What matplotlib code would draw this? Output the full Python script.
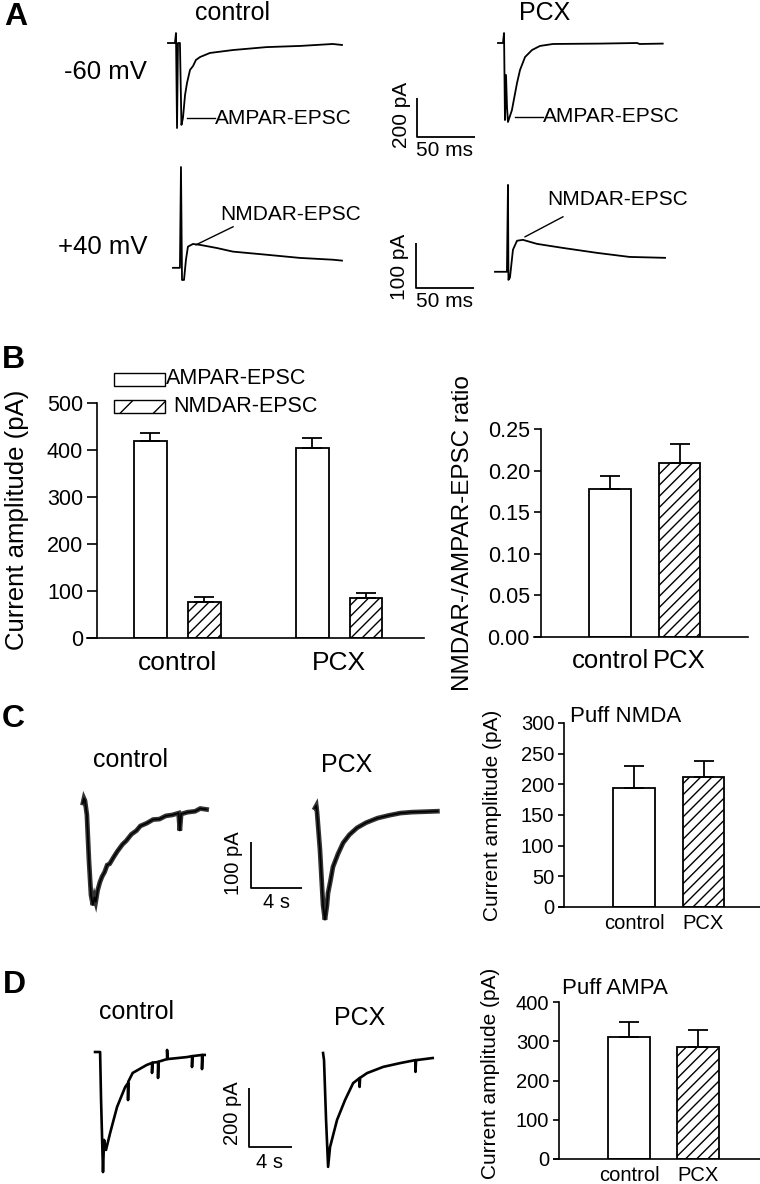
import matplotlib
matplotlib.use('Agg')
import matplotlib.pyplot as plt
from matplotlib.patches import Rectangle

plt.rcParams['font.family'] = ['Liberation Sans', 'DejaVu Sans']
plt.rcParams['hatch.linewidth'] = 1.0

# ---------------- data ----------------
groups = ['control', 'PCX']

# Panel A example traces (time in ms from trace start, current in pA from baseline)
ctrl_m60_t = [0, 6, 6.9, 7.8, 8.6, 10.3, 11.6, 12.9, 14.7, 16.4, 19, 21.6, 24.1, 27.6, 36.2, 56, 85, 114, 142, 150]
ctrl_m60_i = [0, 0, 51, -436, 0, 0, -420, -385, -267, -205, -138, -118, -87, -72, -51, -36, -21, -15, -5, -10]
pcx_m60_t = [0, 4.3, 5.2, 6, 6.9, 7.8, 8.6, 12, 16.4, 19, 23.3, 29.3, 36.2, 47.4, 88, 120, 122, 142]
pcx_m60_i = [0, 0, 51, -395, -164, -333, -405, -344, -205, -138, -72, -36, -15, -5, -3, 0, -5, -3]
ctrl_p40_t = [0, 6, 6.9, 7.8, 9.5, 11.2, 12.9, 17.2, 23.3, 37.9, 51.7, 81, 109.5, 138, 145.7]
ctrl_p40_i = [0, 0, 224, -27, -27, 18, 47, 53, 51, 44, 36, 29, 22, 18, 16]
pcx_p40_t = [0, 8.6, 10.3, 11.2, 11.6, 12.9, 15.5, 19, 24.1, 36.2, 58.6, 88, 116, 146.6]
pcx_p40_i = [0, 0, 0, 193, -18, -13, 49, 69, 71, 62, 53, 42, 33, 31]

# Panel B summary
ampar_amp = [420, 404]
ampar_err = [17, 22]
nmdar_amp = [77, 85]
nmdar_err = [10, 11]
ratio = [0.178, 0.209]
ratio_err = [0.016, 0.023]

# Panel C puff NMDA traces (time in s, current in pA)
ctrl_c_t = [0, 0.08, 0.16, 0.31, 0.47, 0.63, 0.78, 0.9, 1.0, 1.15, 1.33, 1.5, 1.7, 1.9, 2.1, 2.4, 2.7, 3.1,
            3.4, 3.8, 4.2, 4.5, 5.0, 5.5, 6.0, 6.5, 7.0, 7.5, 7.6, 7.7, 8.2, 8.8, 9.2, 9.7]
ctrl_c_i = [0, 10, 5, -26, -124, -200, -222, -205, -215, -190, -172, -160, -150, -135, -132, -118, -105, -90,
            -82, -68, -60, -50, -44, -36, -35, -28, -26, -22, -60, -24, -20, -18, -12, -14]
pcx_c_t = [0, 0.1, 0.16, 0.39, 0.63, 0.78, 0.94, 1.02, 1.2, 1.41, 1.8, 2.2, 2.7, 3.3, 4.0, 4.9, 5.8, 6.7, 7.6, 8.6, 9.6]
pcx_c_i = [0, 5, -9, -91, -211, -243, -211, -185, -160, -128, -100, -76, -58, -43, -32, -22, -16, -11, -9, -8, -7]
c_amp = [194, 212]
c_err = [36, 26]

# Panel D puff AMPA traces (time in s, current in pA)
ctrl_d_t = [0, 0.47, 0.56, 0.74, 0.84, 1.02, 1.4, 2.05, 2.8, 3.07, 3.07, 3.1, 3.5, 4.8, 5.3, 5.3, 5.35,
            5.86, 5.86, 5.9, 6.7, 6.7, 6.75, 8.6, 9.02, 9.02, 9.06, 9.95, 9.95, 10.0, 10.2]
ctrl_d_i = [0, 0, -163, -407, -298, -332, -275, -186, -119, -105, -163, -100, -71, -44, -37, -71, -36,
            -34, -88, -33, -24, 7, -24, -17, -14, -51, -14, -10, -58, -10, -10]
pcx_d_t = [0, 0.09, 0.28, 0.47, 0.65, 1.3, 2.05, 2.8, 3.4, 3.4, 3.45, 4.1, 5.6, 7.2, 8.6, 8.6, 8.65, 8.7, 10.2]
pcx_d_i = [0, -24, -227, -386, -319, -227, -159, -102, -85, -115, -84, -68, -47, -34, -24, -64, -24, -24, -17]
d_amp = [311, 285]
d_err = [38, 44]

# ---------------- layout helpers ----------------
W, H = 760, 1184
fig = plt.figure(figsize=(W / 100, H / 100), dpi=100)


def px_axes(left, top, right, bottom):
    return fig.add_axes([left / W, 1 - bottom / H, (right - left) / W, (bottom - top) / H])


def px_text(x, y, s, **kw):
    kw.setdefault('ha', 'center')
    kw.setdefault('va', 'center')
    fig.text(x / W, 1 - y / H, s, **kw)


def shift(vals, d):
    return [v + d for v in vals]


def scale_bar(ax, x0, y0, dx, dy, ylab, xlab, ylab_xy, xlab_xy, fs):
    ax.plot([x0, x0, x0 + dx], [y0 + dy, y0, y0], color='black', lw=1.3, solid_capstyle='butt')
    ax.text(ylab_xy[0], ylab_xy[1], ylab, rotation=90, ha='center', va='center', fontsize=fs)
    ax.text(xlab_xy[0], xlab_xy[1], xlab, ha='center', va='center', fontsize=fs)


def style_bar_axes(ax, spine_frac, ymax, ticks, ticklen, fs_tick):
    for s in ['top', 'right']:
        ax.spines[s].set_visible(False)
    ax.spines['left'].set_position(('axes', spine_frac))
    ax.spines['left'].set_bounds(0, ymax)
    for s in ['left', 'bottom']:
        ax.spines[s].set_linewidth(1.2)
    ax.set_ylim(0, ymax)
    ax.set_yticks(ticks)
    ax.tick_params(axis='y', direction='out', length=ticklen, width=1.2, labelsize=fs_tick, pad=3)
    ax.tick_params(axis='x', length=0)


def errbars(ax, xs, vals, errs, cap):
    ax.errorbar(xs, vals, yerr=[[0] * len(errs), errs], fmt='none', ecolor='black',
                elinewidth=1.3, capsize=cap, capthick=1.3, zorder=3)


# ---------------- panel letters and titles ----------------
for letter, (lx, ly) in {'A': (16, 17), 'B': (13, 360), 'C': (13, 719), 'D': (14, 985)}.items():
    px_text(lx, ly, letter, fontsize=23, fontweight='bold')

px_text(232, 13, 'control', fontsize=18)
px_text(545, 13, 'PCX', fontsize=18)
px_text(105, 72, '-60 mV', fontsize=18.5)
px_text(103, 247, '+40 mV', fontsize=18.5)

# ---------------- A: -60 mV row ----------------
ax = px_axes(150, 20, 700, 160)
ax.axis('off')
ax.set_xlim(0, 550 / 1.16)
ax.set_ylim(118 - 140 / 0.195, 118)
ax.plot(shift(ctrl_m60_t, 15.5), ctrl_m60_i, color='black', lw=1.3)
ax.plot(shift(pcx_m60_t, 300), pcx_m60_i, color='black', lw=1.3)
ax.plot([31.9, 56], [-385, -385], color='black', lw=1)
ax.text(56, -385, 'AMPAR-EPSC', ha='left', va='center', fontsize=15)
ax.plot([314.7, 338.8], [-379, -379], color='black', lw=1)
ax.text(338.8, -379, 'AMPAR-EPSC', ha='left', va='center', fontsize=15)
scale_bar(ax, 230, -482, 50, 200, '200 pA', '50 ms', (217, -369), (254, -549), 15)

# ---------------- A: +40 mV row ----------------
ax = px_axes(150, 160, 700, 300)
ax.axis('off')
ax.set_xlim(0, 550 / 1.16)
ax.set_ylim(244 - 140 / 0.45, 244)
ax.plot(shift(ctrl_p40_t, 19.8), shift(ctrl_p40_i, 4.4), color='black', lw=1.3)
ax.plot(shift(pcx_p40_t, 297.4), shift(pcx_p40_i, -4.4), color='black', lw=1.3)
ax.plot([39.7, 71.6], [55.6, 95.6], color='black', lw=1)
ax.text(60.3, 122, 'NMDAR-EPSC', ha='left', va='center', fontsize=15)
ax.plot([323.3, 356], [73.3, 117.8], color='black', lw=1)
ax.text(342.2, 155.6, 'NMDAR-EPSC', ha='left', va='center', fontsize=15)
scale_bar(ax, 229.3, -40, 50, 100, '100 pA', '50 ms', (215.5, 7), (254, -71), 15)

# ---------------- B: amplitudes ----------------
ax = px_axes(87, 403, 424, 638)
ax.set_xlim(-0.560, 1.526)
x = [0, 1]
off, bw = 0.167, 0.204
ax.bar([xi - off for xi in x], ampar_amp, width=bw, color='white', edgecolor='black', lw=1.3)
ax.bar([xi + off for xi in x], nmdar_amp, width=bw, color='white', edgecolor='black', lw=1.3, hatch='///')
errbars(ax, [xi - off for xi in x], ampar_amp, ampar_err, 7)
errbars(ax, [xi + off for xi in x], nmdar_amp, nmdar_err, 7)
style_bar_axes(ax, (97 - 87) / (424 - 87), 500, [0, 100, 200, 300, 400, 500], 7, 15.5)
ax.set_xticks(x)
ax.set_xticklabels(groups, fontsize=19)
ax.tick_params(axis='x', pad=9)
px_text(17, 520, 'Current amplitude (pA)', fontsize=18.5, rotation=90)

# legend drawn by hand
fig.add_artist(Rectangle((114 / W, 1 - 386 / H), 51 / W, 13 / H, transform=fig.transFigure,
                         facecolor='white', edgecolor='black', lw=1))
fig.add_artist(Rectangle((114 / W, 1 - 413 / H), 51 / W, 13 / H, transform=fig.transFigure,
                         facecolor='white', edgecolor='black', lw=1, hatch='/'))
px_text(166, 379, 'AMPAR-EPSC', ha='left', fontsize=15.5)
px_text(173, 406, 'NMDAR-EPSC', ha='left', fontsize=15.5)

# ---------------- B: ratio ----------------
ax = px_axes(534, 429, 748, 637)
ax.set_xlim(-1.094, (748 - 610) / 69.5)
ax.bar(x, ratio, width=0.604, color='white', edgecolor='black', lw=1.3)
ax.patches[1].set_hatch('///')
errbars(ax, x, ratio, ratio_err, 7)
style_bar_axes(ax, (541 - 534) / (748 - 534), 0.25, [0, 0.05, 0.10, 0.15, 0.20, 0.25], 5, 15.5)
ax.set_yticklabels(['0.00', '0.05', '0.10', '0.15', '0.20', '0.25'])
ax.set_xticks(x)
ax.set_xticklabels(groups, fontsize=18.5)
ax.tick_params(axis='x', pad=9)
px_text(463, 533, 'NMDAR-/AMPAR-EPSC ratio', fontsize=17.5, rotation=90)

# ---------------- C: puff NMDA ----------------
px_text(130, 760, 'control', fontsize=18)
px_text(347, 765, 'PCX', fontsize=18)
ax = px_axes(60, 780, 460, 930)
ax.axis('off')
ax.set_xlim(0, 400 / 12.75)
ax.set_ylim((803 - 930) / 0.46, (803 - 780) / 0.46)
ax.plot(shift(ctrl_c_t, 1.8), ctrl_c_i, color='#333333', lw=3.4, solid_joinstyle='miter')
ax.plot(shift(ctrl_c_t, 1.8), ctrl_c_i, color='black', lw=1.2)
ax.plot(shift(pcx_c_t, 20.0), shift(pcx_c_i, -10.9), color='#333333', lw=3.4, solid_joinstyle='miter')
ax.plot(shift(pcx_c_t, 20.0), shift(pcx_c_i, -10.9), color='black', lw=1.2)
scale_bar(ax, 14.98, -184.8, 4, 100, '100 pA', '4 s', (13.6, -130), (17.0, -217), 14.5)

ax = px_axes(559, 723, 760, 907)
ax.set_xlim((559 - 634) / 69.5, (760 - 634) / 69.5)
ax.bar(x, c_amp, width=0.604, color='white', edgecolor='black', lw=1.3)
ax.patches[1].set_hatch('///')
errbars(ax, x, c_amp, c_err, 7)
style_bar_axes(ax, 5 / 201, 300, [0, 50, 100, 150, 200, 250, 300], 4, 14.5)
ax.set_xticks(x)
ax.set_xticklabels(groups, fontsize=14.5)
ax.tick_params(axis='x', pad=5)
px_text(493, 815, 'Current amplitude (pA)', fontsize=15, rotation=90)
px_text(570, 717, 'Puff NMDA', ha='left', fontsize=16)

# ---------------- D: puff AMPA ----------------
px_text(136, 1012, 'control', fontsize=18)
px_text(360, 1018, 'PCX', fontsize=18)
ax = px_axes(60, 1040, 460, 1184)
ax.axis('off')
ax.set_xlim(0, 400 / 10.75)
ax.set_ylim((1052 - 1184) / 0.295, (1052 - 1040) / 0.295)
ax.plot(shift(ctrl_d_t, 3.26), ctrl_d_i, color='black', lw=1.9)
ax.plot(shift(pcx_d_t, 24.47), shift(pcx_d_i, -3.4), color='black', lw=1.9)
scale_bar(ax, 17.58, -322, 4, 200, '200 pA', '4 s', (16.0, -207), (19.5, -373), 14.5)

ax = px_axes(554, 1002, 760, 1159)
ax.set_xlim((554 - 629) / 69, (760 - 629) / 69)
ax.bar(x, d_amp, width=0.604, color='white', edgecolor='black', lw=1.3)
ax.patches[1].set_hatch('///')
errbars(ax, x, d_amp, d_err, 7)
style_bar_axes(ax, 5 / 206, 400, [0, 100, 200, 300, 400], 4, 14.5)
ax.set_xticks(x)
ax.set_xticklabels(groups, fontsize=14.5)
ax.tick_params(axis='x', pad=5)
px_text(490, 1073, 'Current amplitude (pA)', fontsize=15, rotation=90)
px_text(562, 989, 'Puff AMPA', ha='left', fontsize=16)

fig.savefig('out.png', dpi=100)
